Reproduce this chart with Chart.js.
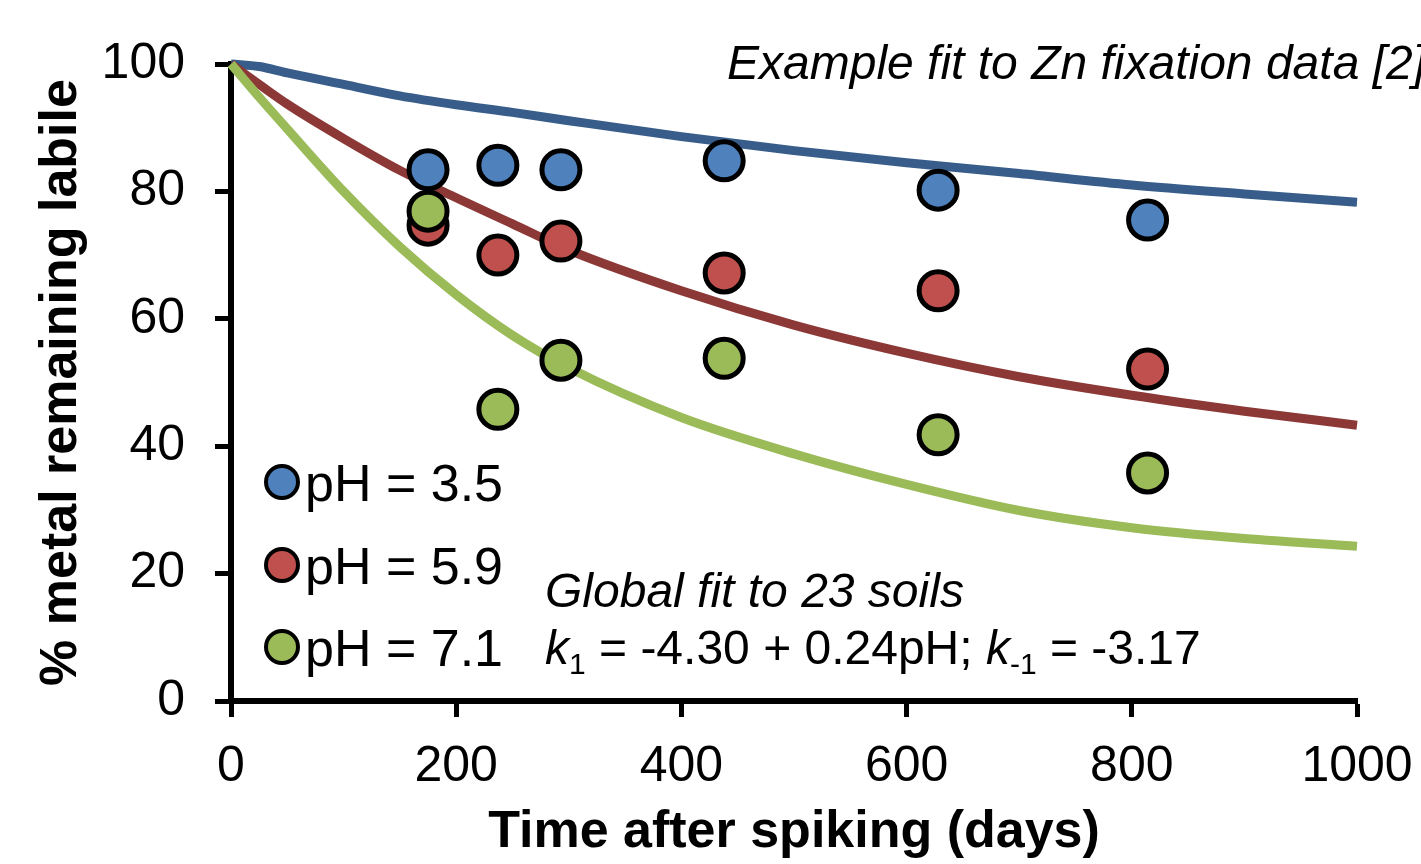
<!DOCTYPE html>
<html>
<head>
<meta charset="utf-8">
<title>Metal fixation</title>
<script src="https://cdn.jsdelivr.net/npm/chart.js@4.4.0/dist/chart.umd.min.js"></script>
<style>
  html, body { margin: 0; padding: 0; background: #fff; }
  #wrap { width: 1421px; height: 864px; position: relative; }
</style>
</head>
<body>
<div id="wrap"><canvas id="fixChart"></canvas></div>
<script>
// measured points (days after spiking, % labile)
const seriesNames = ['pH = 3.5', 'pH = 5.9', 'pH = 7.1'];
const sampleDays = [175, 237, 293, 438, 628, 814];
const bluePoints = [83.4, 84.1, 83.4, 84.8, 80.2, 75.5];
const redPoints = [74.7, 70.0, 72.2, 67.2, 64.4, 52.1];
const greenPoints = [76.9, 45.8, 53.5, 53.8, 41.8, 35.8];

// fitted curves
const fitDays = [0, 25, 50, 100, 150, 200, 250, 300, 400, 500, 600, 700, 800, 900, 1000];
const blueFit = [100, 99.6, 98.6, 96.8, 95.0, 93.6, 92.4, 91.1, 88.6, 86.4, 84.5, 82.8, 81.0, 79.6, 78.3];
const redFit = [100, 96.8, 93.7, 88.3, 83.3, 79.0, 74.9, 70.8, 64.4, 59.0, 54.6, 50.9, 48.0, 45.5, 43.3];
const greenFit = [100, 94.8, 89.8, 80.0, 71.3, 63.8, 57.4, 52.3, 44.5, 38.8, 34.0, 29.9, 27.2, 25.5, 24.3];

const xTickValues = [0, 200, 400, 600, 800, 1000];
const yTickValues = [0, 20, 40, 60, 80, 100];

const fills = ['#4F81BD', '#C0504D', '#9BBB59'];
const lineColors = ['#385D8A', '#8C3836', '#9BBB59'];
const FONT = '"Liberation Sans", Arial, sans-serif';

const pointSet = (label, values, fill, order) => ({
  type: 'scatter',
  label: label,
  data: sampleDays.map((d, i) => ({ x: d, y: values[i] })),
  backgroundColor: fill,
  borderColor: '#000',
  borderWidth: 5,
  pointRadius: 19,
  pointHoverRadius: 19,
  order: order
});

const fitSet = (values, color, order) => ({
  type: 'scatter',
  label: 'fit',
  data: fitDays.map((d, i) => ({ x: d, y: values[i] })),
  showLine: true,
  borderColor: color,
  borderWidth: 9,
  pointRadius: 0,
  cubicInterpolationMode: 'monotone',
  clip: false,
  order: order
});

// legend + notes drawn straight on the canvas
const notesPlugin = {
  id: 'notes',
  afterDraw(chart) {
    const ctx = chart.ctx;
    ctx.save();
    ctx.fillStyle = '#000';
    ctx.textBaseline = 'alphabetic';
    ctx.textAlign = 'left';

    // legend
    const rows = [482, 565, 647];
    seriesNames.forEach((name, i) => {
      ctx.beginPath();
      ctx.arc(282, rows[i], 16, 0, Math.PI * 2);
      ctx.fillStyle = fills[i];
      ctx.fill();
      ctx.lineWidth = 4;
      ctx.strokeStyle = '#000';
      ctx.stroke();
      ctx.fillStyle = '#000';
      ctx.font = '52px ' + FONT;
      ctx.fillText(name, 305, rows[i] + 19);
    });

    // top note
    ctx.font = 'italic 48px ' + FONT;
    ctx.fillText('Example fit to Zn fixation data [2]', 727, 79);

    // global fit note
    ctx.fillText('Global fit to 23 soils', 545, 607);

    let x = 545;
    const base = 664;
    const part = (txt, font, dy) => {
      ctx.font = font;
      ctx.fillText(txt, x, base + dy);
      x += ctx.measureText(txt).width;
    };
    part('k', 'italic 48px ' + FONT, 0);
    part('1', '30px ' + FONT, 10);
    part(' = -4.30 + 0.24pH; ', '48px ' + FONT, 0);
    part('k', 'italic 48px ' + FONT, 0);
    part('-1', '30px ' + FONT, 10);
    part(' = -3.17', '48px ' + FONT, 0);
    ctx.restore();
  }
};

const ctx = document.getElementById('fixChart').getContext('2d');
new Chart(ctx, {
  type: 'scatter',
  data: {
    datasets: [
      pointSet(seriesNames[2], greenPoints, fills[2], 0),
      pointSet(seriesNames[1], redPoints, fills[1], 1),
      pointSet(seriesNames[0], bluePoints, fills[0], 2),
      fitSet(greenFit, lineColors[2], 3),
      fitSet(redFit, lineColors[1], 4),
      fitSet(blueFit, lineColors[0], 5)
    ]
  },
  options: {
    responsive: true,
    maintainAspectRatio: false,
    animation: false,
    events: [],
    layout: { padding: { top: 64, right: 64, left: 0, bottom: 0 } },
    plugins: {
      legend: { display: false },
      tooltip: { enabled: false },
      title: { display: false }
    },
    scales: {
      x: {
        type: 'linear',
        min: 0,
        max: 1000,
        afterBuildTicks: s => { s.ticks = xTickValues.map(v => ({ value: v })); },
        afterFit: s => { s.height = 163; s.paddingLeft = 0; s.paddingRight = 0; },
        grid: { drawOnChartArea: false, drawTicks: true, tickLength: 16, tickWidth: 5, tickColor: '#000' },
        border: { display: true, width: 6, color: '#000' },
        ticks: { color: '#000', font: { family: FONT, size: 50 }, padding: 20, maxRotation: 0,
                 callback: v => String(v) },
        title: { display: true, text: 'Time after spiking (days)', color: '#000',
                 font: { family: FONT, size: 52, weight: 'bold' }, padding: { top: 0, bottom: 0 } }
      },
      y: {
        type: 'linear',
        min: 0,
        max: 100,
        afterBuildTicks: s => { s.ticks = yTickValues.map(v => ({ value: v })); },
        afterFit: s => { s.width = 231; s.paddingTop = 0; s.paddingBottom = 0; },
        grid: { drawOnChartArea: false, drawTicks: true, tickLength: 16, tickWidth: 5, tickColor: '#000' },
        border: { display: true, width: 6, color: '#000' },
        ticks: { color: '#000', font: { family: FONT, size: 50 }, padding: 30,
                 callback: v => String(v) },
        title: { display: true, text: '% metal remaining labile', color: '#000',
                 font: { family: FONT, size: 52, weight: 'bold' }, padding: { top: 30, bottom: 0 } }
      }
    }
  },
  plugins: [notesPlugin]
});
</script>
</body>
</html>
